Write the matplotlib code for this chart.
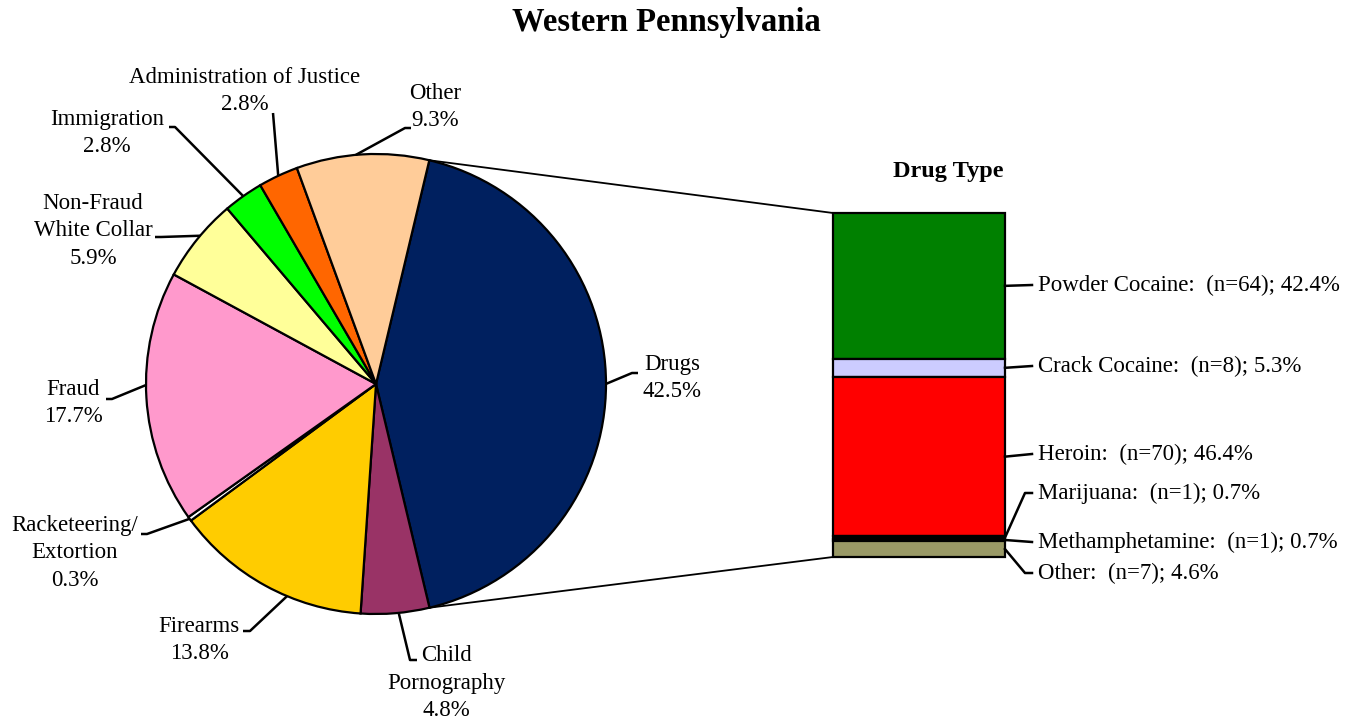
import numpy as np
import matplotlib.pyplot as plt

plt.rcParams['font.family'] = ['Liberation Serif', 'DejaVu Serif']

# offence categories (clockwise from the top of the Drugs slice)
categories = ["Drugs", "Child\nPornography", "Firearms", "Racketeering/\nExtortion", "Fraud",
              "Non-Fraud\nWhite Collar", "Immigration", "Administration of Justice", "Other"]
shares = [42.5, 4.8, 13.8, 0.3, 17.7, 5.9, 2.8, 2.8, 9.3]
pie_colors = ["#00205F", "#993366", "#FFCC00", "#FFFFFF", "#FF99CC",
              "#FFFF99", "#00FF00", "#FF6600", "#FFCC99"]

# drug types (top to bottom in the bar)
drug_types = ["Powder Cocaine", "Crack Cocaine", "Heroin", "Marijuana", "Methamphetamine", "Other"]
drug_counts = [64, 8, 70, 1, 1, 7]
drug_shares = [42.4, 5.3, 46.4, 0.7, 0.7, 4.6]
drug_colors = ["#008000", "#CCCCFF", "#FF0000", "#000000", "#111111", "#999966"]

H = 719
fig = plt.figure(figsize=(13.52, 7.19), dpi=100)
ax = fig.add_axes([0, 0, 1, 1])

cx, cy, r = 376, H - 384, 230
wedges, _ = ax.pie(shares, colors=pie_colors, startangle=76.6, counterclock=False,
                   center=(cx, cy), radius=r, frame=True,
                   wedgeprops=dict(edgecolor="black", linewidth=1.6))
ax.set_xlim(0, 1352)
ax.set_ylim(0, H)
ax.axis("off")

fs = 16.5
ls = 1.42
# label text position (px), elbow points (px), where on the wedge the leader starts
label_pos = [(672, 378), (446, 683), (199, 640), (75, 553), (73, 403),
             (93, 231), (107, 133), (245, 91), (435, 107)]
elbows = [[(632, 373), (638, 373)], [(410, 660), (417, 660)], [(250, 631), (243, 631)],
          [(147, 534), (141, 534)], [(112, 399), (106, 399)], [(161, 237), (155, 237)],
          [(175, 127), (169, 127)], [(273, 113), (273, 113)], [(405, 128), (411, 128)]]
edge_frac = [0.5, 0.55, 0.62, 0.5, 0.45, 0.45, 0.5, 0.5, 0.55]

for w, name, pct, pos, elb, fr in zip(wedges, categories, shares, label_pos, elbows, edge_frac):
    t1, t2 = w.theta1, w.theta2
    a = np.deg2rad(t1 + (t2 - t1) * fr)
    px, py = cx + r * np.cos(a), cy + r * np.sin(a)
    xs = [px] + [e[0] for e in elb]
    ys = [py] + [H - e[1] for e in elb]
    ax.plot(xs, ys, color="black", lw=1.8, solid_capstyle="butt")
    ax.text(pos[0], H - pos[1], f"{name}\n{pct}%", ha="center", va="center",
            fontsize=fs, linespacing=ls, multialignment="center")

# stacked bar for drug types
bx, bw = 919, 172
b_bottom, b_top = H - 557, H - 213
scale = (b_top - b_bottom) / sum(drug_shares)
heights = [s * scale for s in drug_shares]
bottoms = [b_top - sum(heights[:i + 1]) for i in range(len(heights))]
ax.bar([bx] * len(heights), heights, width=bw, bottom=bottoms, color=drug_colors,
       edgecolor="black", linewidth=1.6)
ax.text(948, H - 172, "Drug Type", ha="center", va="center",
        fontsize=17.5, fontweight="bold")

# connector lines pie -> bar
drug_w = wedges[0]
for ang, by in [(drug_w.theta2, b_top), (drug_w.theta1, b_bottom)]:
    a = np.deg2rad(ang)
    ax.plot([cx + r * np.cos(a), bx - bw / 2], [cy + r * np.sin(a), by],
            color="black", lw=1.3, zorder=0)

# bar labels
text_y = [285, 366, 454, 493, 542, 573]
for name, n, s, h, b, ty in zip(drug_types, drug_counts, drug_shares, heights, bottoms, text_y):
    mid = b + h / 2
    right = bx + bw / 2
    if name in ("Marijuana", "Other"):
        ax.plot([right, 1025, 1032], [mid, H - ty, H - ty], color="black", lw=1.8)
    else:
        ax.plot([right, 1032], [mid, H - ty], color="black", lw=1.8)
    ax.text(1038, H - ty, f"{name}:  (n={n}); {s}%", ha="left", va="center", fontsize=fs)

ax.text(666, H - 22, "Western Pennsylvania", ha="center", va="center",
        fontsize=23.5, fontweight="bold")

fig.savefig("out.png", dpi=100)
